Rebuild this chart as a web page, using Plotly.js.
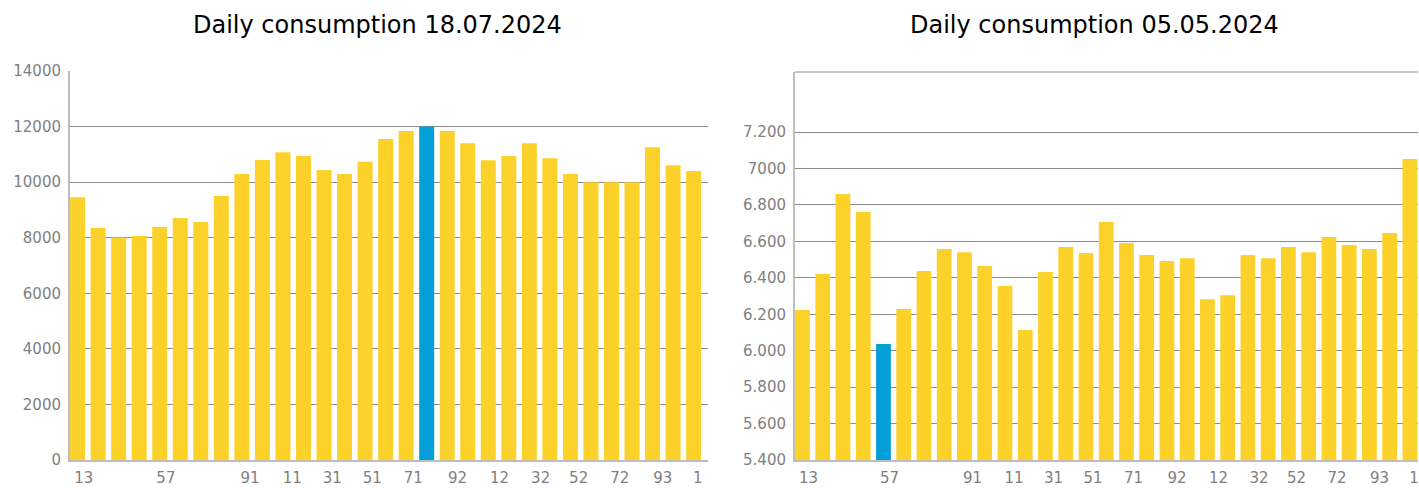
<!DOCTYPE html>
<html>
<head>
<meta charset="utf-8">
<script src="https://cdn.plot.ly/plotly-3.0.1.min.js"></script>
<style>html,body{margin:0;padding:0;background:#fff;}#chart{width:1419px;height:488px;}</style>
</head>
<body>
<div id="chart"></div>
<script>
// Data
const days = Array.from({length: 31}, (_, i) => i); // bar slots
const julyValues = [9460, 8350, 8010, 8060, 8390, 8710, 8570, 9500, 10290, 10800, 11080, 10940, 10440, 10290, 10730, 11550, 11840, 12000, 11840, 11400, 10790, 10940, 11400, 10860, 10290, 10000, 10000, 10000, 11260, 10610, 10400];
const mayValues = [6223, 6421, 6860, 6761, 6037, 6229, 6437, 6558, 6541, 6465, 6355, 6113, 6432, 6569, 6536, 6706, 6591, 6525, 6492, 6508, 6283, 6305, 6525, 6508, 6569, 6541, 6624, 6580, 6558, 6646, 7052];
const julyHighlight = 17;
const mayHighlight = 4;
const xTickText = ["13", "57", "91", "11", "31", "51", "71", "92", "12", "32", "52", "72", "93", "1"];
const xTickPos = [0.3, 4.3, 8.4, 10.45, 12.4, 14.35, 16.35, 18.5, 20.55, 22.55, 24.4, 26.4, 28.5, 30.2];
const julyYTicks = [0, 2000, 4000, 6000, 8000, 10000, 12000, 14000];
const julyYText = ["0", "2000", "4000", "6000", "8000", "10000", "12000", "14000"];
const mayYTicks = [5400, 5600, 5800, 6000, 6200, 6400, 6600, 6800, 7000, 7200];
const mayYText = ["5.400", "5.600", "5.800", "6.000", "6.200", "6.400", "6.600", "6.800", "7000", "7.200"];
const titles = ["Daily consumption 18.07.2024", "Daily consumption 05.05.2024"];

const YELLOW = "#FCD22A", BLUE = "#049FD9";
const colorsFor = (vals, hi) => vals.map((_, i) => i === hi ? BLUE : YELLOW);

const traces = [
  {type: "bar", x: days, y: julyValues, xaxis: "x", yaxis: "y",
   marker: {color: colorsFor(julyValues, julyHighlight)}, hoverinfo: "y"},
  {type: "bar", x: days, y: mayValues, xaxis: "x2", yaxis: "y2",
   marker: {color: colorsFor(mayValues, mayHighlight)}, hoverinfo: "y"}
];

const W = 1419, H = 488;
const tickFont = {family: "DejaVu Sans, sans-serif", size: 15, color: "#7f7f7f"};
const xCommon = {
  tickmode: "array", tickvals: xTickPos, ticktext: xTickText,
  showgrid: false, zeroline: false, showline: true, linecolor: "#bdbdbd", linewidth: 2,
  ticks: "", tickfont: tickFont, fixedrange: true, ticklabelstandoff: 3
};
const yCommon = {
  tickmode: "array", showgrid: true, gridcolor: "#8c8c8c", gridwidth: 1,
  zeroline: false, showline: true, linecolor: "#bdbdbd", linewidth: 2,
  ticks: "", tickfont: tickFont, fixedrange: true, ticklabelstandoff: 4
};

const titleFont = {family: "DejaVu Sans, sans-serif", size: 24, color: "#000"};
const layout = {
  width: W, height: H,
  margin: {l: 0, r: 0, t: 0, b: 0},
  paper_bgcolor: "#fff", plot_bgcolor: "#fff",
  showlegend: false, bargap: 0.27,
  xaxis: Object.assign({}, xCommon, {domain: [70 / W, 708 / W], range: [-0.37, 30.7], anchor: "y"}),
  yaxis: Object.assign({}, yCommon, {domain: [(H - 460) / H, (H - 71) / H], range: [0, 14000],
    tickvals: julyYTicks, ticktext: julyYText, anchor: "x"}),
  xaxis2: Object.assign({}, xCommon, {domain: [795 / W, 1418 / W], range: [-0.37, 30.4], anchor: "y2"}),
  yaxis2: Object.assign({}, yCommon, {domain: [(H - 460) / H, (H - 72) / H], range: [5400, 7530],
    tickvals: mayYTicks, ticktext: mayYText, anchor: "x2"}),
  shapes: [
    {type: "line", xref: "x2 domain", yref: "y2 domain", x0: 0, x1: 1, y0: 1, y1: 1,
     line: {color: "#8c8c8c", width: 1}}
  ],
  annotations: [
    {text: titles[0], xref: "paper", yref: "paper", x: 377 / W, y: (H - 25) / H,
     xanchor: "center", yanchor: "middle", showarrow: false, font: titleFont},
    {text: titles[1], xref: "paper", yref: "paper", x: 1094 / W, y: (H - 25) / H,
     xanchor: "center", yanchor: "middle", showarrow: false, font: titleFont}
  ]
};

Plotly.newPlot("chart", traces, layout, {staticPlot: true, displayModeBar: false});
</script>
</body>
</html>
